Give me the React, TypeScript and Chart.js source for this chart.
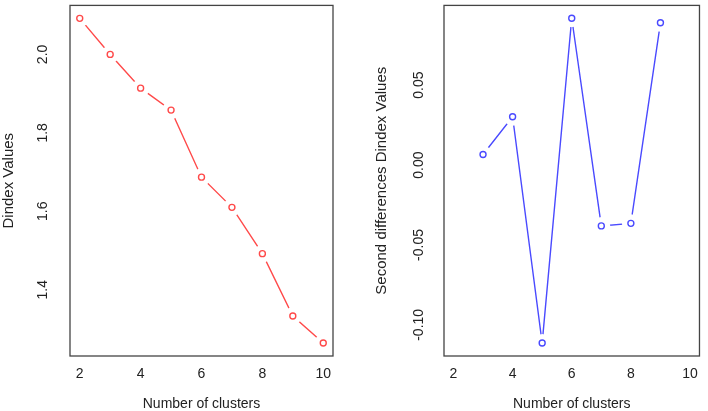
import React, { useEffect, useRef } from "react";
import { Chart, registerables } from "chart.js";

Chart.register(...registerables);

// ---- data ----
const clusters = [2, 3, 4, 5, 6, 7, 8, 9, 10];
const dindexValues = [2.092, 2.0, 1.914, 1.858, 1.687, 1.61, 1.492, 1.333, 1.264];
const diffClusters = [3, 4, 5, 6, 7, 8, 9];
const diffValues = [0.0066, 0.0302, -0.1114, 0.0919, -0.0381, -0.0365, 0.089];
const xTickValues = [2, 4, 6, 8, 10];
const leftYTicks = [1.4, 1.6, 1.8, 2.0];
const rightYTicks = [-0.1, -0.05, 0.0, 0.05];

const FONT = "'Liberation Sans', Arial, sans-serif";
const TEXT = "#222222";
const FONT_SIZE = 14;
const GAP = 9;

type PanelProps = {
  xs: number[];
  ys: number[];
  color: string;
  yTitle: string;
  yTicks: number[];
  digits: number;
  yMin: number;
  yMax: number;
  yAxisWidth: number;
  padRight: number;
  labelX: number;
  titlePad: number;
  left: number;
};

function Panel(p: PanelProps) {
  const ref = useRef<HTMLCanvasElement | null>(null);
  useEffect(() => {
    if (!ref.current) return;
    const linePts = p.xs.map((x, i) => ({ x, y: p.ys[i] }));
    const markPts = p.xs.map((x, i) => ({ x, y: p.ys[i] }));
    const plugin = {
      id: "boxLabelsGaps",
      beforeDatasetDraw(chart: any, args: any) {
        // open gaps around the points (like R's type = "b") by clipping the line
        if (args.index !== 0) return;
        const ctx = chart.ctx;
        const pointsMeta = chart.getDatasetMeta(1);
        ctx.save();
        ctx.beginPath();
        ctx.rect(0, 0, chart.width, chart.height);
        for (const el of pointsMeta.data) {
          ctx.moveTo(el.x + GAP, el.y);
          ctx.arc(el.x, el.y, GAP, 0, Math.PI * 2, true);
        }
        ctx.clip("evenodd");
      },
      afterDatasetDraw(chart: any, args: any) {
        if (args.index !== 0) return;
        chart.ctx.restore();
      },
      afterDraw(chart: any) {
        const { ctx, chartArea } = chart;
        ctx.save();
        ctx.strokeStyle = "#444444";
        ctx.lineWidth = 1.3;
        ctx.strokeRect(chartArea.left, chartArea.top, chartArea.right - chartArea.left, chartArea.bottom - chartArea.top);
        const ys = chart.scales.y;
        ctx.fillStyle = TEXT;
        ctx.font = `${FONT_SIZE}px ${FONT}`;
        ctx.textAlign = "center";
        ctx.textBaseline = "middle";
        for (const t of ys.ticks) {
          const py = ys.getPixelForValue(t.value);
          ctx.save();
          ctx.translate(p.labelX, py);
          ctx.rotate(-Math.PI / 2);
          ctx.fillText(Number(t.value).toFixed(p.digits), 0, 0);
          ctx.restore();
        }
        ctx.restore();
      },
    };
    const chart = new Chart(ref.current, {
      type: "line",
      data: {
        datasets: [
          { data: linePts, borderColor: p.color, borderWidth: 1.4, pointRadius: 0, fill: false, order: 2 },
          {
            data: markPts,
            showLine: false,
            pointRadius: 3,
            pointBackgroundColor: "rgba(255,255,255,0)",
            pointBorderColor: p.color,
            pointBorderWidth: 1.4,
            order: 1,
          },
        ],
      },
      options: {
        animation: false,
        responsive: false,
        events: [],
        layout: { padding: { top: 3, right: p.padRight, left: 0, bottom: 0 } },
        plugins: { legend: { display: false }, tooltip: { enabled: false } },
        scales: {
          x: {
            type: "linear",
            min: 1.68,
            max: 10.32,
            grid: { display: false, drawTicks: false },
            border: { display: false },
            afterBuildTicks: (s: any) => { s.ticks = xTickValues.map((v) => ({ value: v })); },
            afterFit: (s: any) => { s.height = 55; },
            ticks: { padding: 10, color: TEXT, font: { family: FONT, size: FONT_SIZE }, maxRotation: 0, callback: (v: any) => String(v) },
            title: { display: true, text: "Number of clusters", color: TEXT, font: { family: FONT, size: FONT_SIZE, lineHeight: 1.05 }, padding: { top: 0, bottom: 0 } },
          },
          y: {
            type: "linear",
            min: p.yMin,
            max: p.yMax,
            grid: { display: false, drawTicks: false },
            border: { display: false },
            afterBuildTicks: (s: any) => { s.ticks = p.yTicks.map((v) => ({ value: v })); },
            afterFit: (s: any) => { s.width = p.yAxisWidth; },
            ticks: { display: false },
            title: { display: true, text: p.yTitle, color: TEXT, font: { family: FONT, size: 15 }, padding: { top: p.titlePad, bottom: 0 } },
          },
        },
      },
      plugins: [plugin],
    } as any);
    return () => chart.destroy();
  }, []);
  return (
    <div style={{ position: "absolute", left: p.left, top: 0, width: 354, height: 411 }}>
      <canvas ref={ref} width={354} height={411} style={{ width: 354, height: 411, display: "block" }} />
    </div>
  );
}

export default function App() {
  return (
    <div style={{ position: "fixed", left: 0, top: 0, width: 708, height: 411, background: "#ffffff" }}>
      <Panel left={0} xs={clusters} ys={dindexValues} color="#ff4a4a" yTitle="Dindex Values" yTicks={leftYTicks} digits={1} yMin={1.231} yMax={2.125} yAxisWidth={70} padRight={21} labelX={43} titlePad={0} />
      <Panel left={354} xs={diffClusters} ys={diffValues} color="#4a4aff" yTitle="Second differences Dindex Values" yTicks={rightYTicks} digits={2} yMin={-0.1195} yMax={0.0999} yAxisWidth={90} padRight={3} labelX={65} titlePad={19} />
    </div>
  );
}
